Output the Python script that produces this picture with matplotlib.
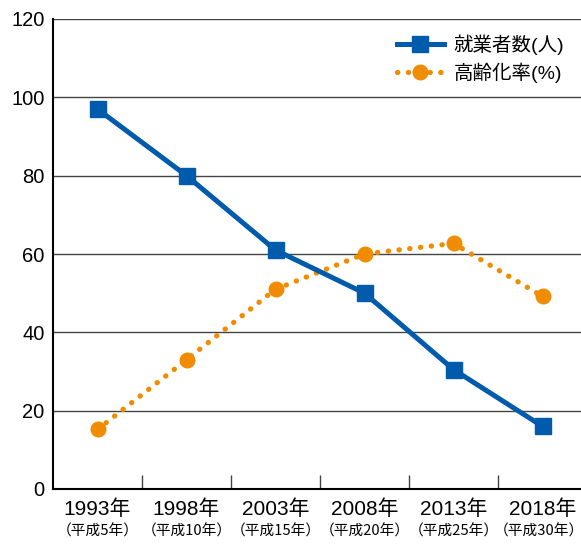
import matplotlib
matplotlib.use("Agg")
import matplotlib.pyplot as plt

plt.rcParams['font.family'] = ['Liberation Sans', 'Noto Sans CJK JP', 'DejaVu Sans']

years = ['1993年', '1998年', '2003年', '2008年', '2013年', '2018年']
heisei = ['（平成5年）', '（平成10年）', '（平成15年）', '（平成20年）', '（平成25年）', '（平成30年）']
workers = [97, 80, 61, 50, 30.5, 16]
aging_rate = [15.2, 33, 51, 60, 62.7, 49.2]

fig = plt.figure(figsize=(5.81, 5.44), dpi=100)
ax = fig.add_axes([53 / 581, 55 / 544, 534 / 581, 470 / 544])

x = list(range(len(years)))
ax.plot(x, workers, color='#005bac', lw=3.6, marker='s', ms=11.5,
        label='就業者数(人)', zorder=4)
ax.plot(x, aging_rate, color='#f08c00', lw=3.8, linestyle=(0, (0.05, 2.0)),
        dash_capstyle='round', marker='o', ms=10.5, label='高齢化率(%)', zorder=3)

ax.set_xlim(-0.5, 5.5)
ax.set_ylim(0, 120)
ax.set_yticks(range(0, 121, 20))
ax.yaxis.grid(True, color='#444444', lw=1)
ax.set_axisbelow(True)
ax.tick_params(axis='y', length=0, labelsize=14.5, pad=6)

# category boundary ticks
ax.set_xticks([i + 0.5 for i in range(5)])
ax.set_xticklabels([])
ax.tick_params(axis='x', direction='in', length=10, width=1, color='#444444')
for i in x:
    ax.text(i, -5.2, years[i], ha='center', va='center', fontsize=15)
    # last label nudged left so it stays inside the image
    ax.text(i - 0.04 * (i == 5), -10.9, heisei[i], ha='center', va='center',
            fontsize=10.6, family=['Noto Sans CJK JP'])

for s in ['top', 'right']:
    ax.spines[s].set_visible(False)
ax.spines['left'].set_linewidth(1.5)
ax.spines['bottom'].set_linewidth(1.5)

ax.legend(loc='upper right', bbox_to_anchor=(0.99, 1.005), frameon=False,
          fontsize=14, handlelength=2.4, handletextpad=0.5, labelspacing=0.4)

fig.savefig('out.png', dpi=100)
